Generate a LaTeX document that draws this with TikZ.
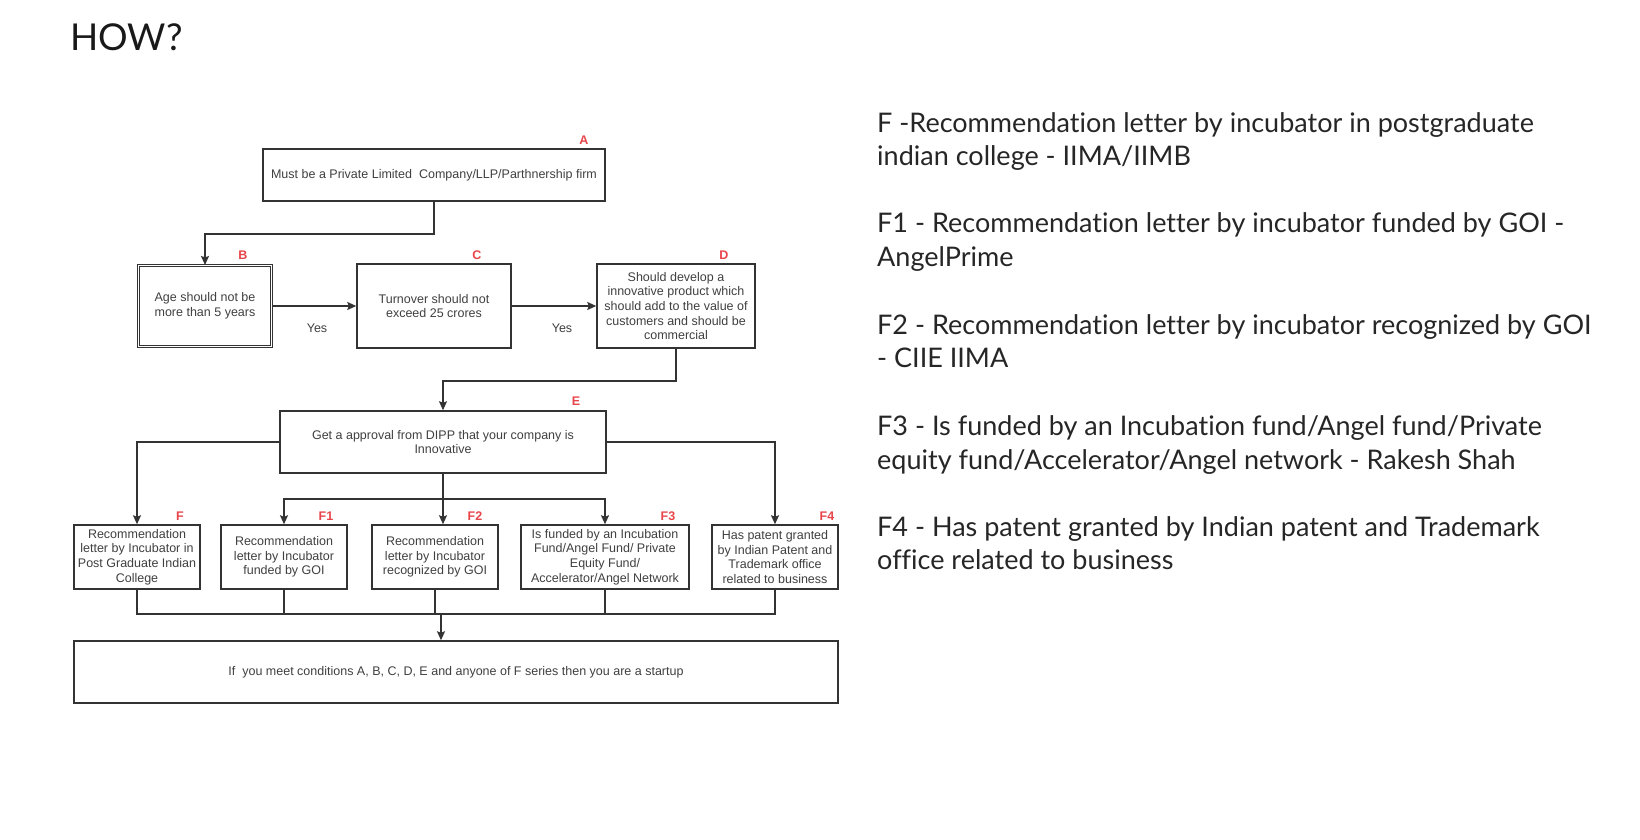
\documentclass[tikz,border=0pt]{standalone}
\usepackage{fontspec}
\setmainfont{Liberation Sans}
\newfontfamily\slidefont[Ligatures=NoCommon]{Lato}
\usetikzlibrary{arrows.meta}
\definecolor{ln}{HTML}{333333}
\definecolor{tx}{HTML}{404040}
\definecolor{lab}{HTML}{E8454A}
\begin{document}
\begin{tikzpicture}[x=1pt,y=-1pt,
  box/.style={draw=ln, line width=1.5pt, inner sep=0pt, align=center, text=tx, font=\fontsize{12.5}{14.6}\selectfont},
  lbl/.style={text=lab, font=\fontsize{12.5}{14}\selectfont\bfseries, inner sep=0pt},
  conn/.style={draw=ln, line width=1.5pt},
  arr/.style={conn, -{Stealth[length=9pt,width=8pt,inset=1.5pt]}},
  yes/.style={text=tx, font=\fontsize{12.5}{14}\selectfont, inner sep=0pt},
  rt/.style={anchor=base west, inner sep=0pt, font=\slidefont\fontsize{27}{33}\selectfont, text=black!85}
]
\path[use as bounding box, fill=white] (0,0) rectangle (1640,840);

\node[anchor=base west, inner sep=0pt, font=\slidefont\fontsize{37}{44}\selectfont, text=black!90] (title) at (70,51) {HOW?};

% boxes
\node[box, minimum width=342pt, minimum height=52pt] (A) at (434,175) {Must be a Private Limited\ \ Company/LLP/Parthnership firm};
\node[box, double=white, double distance=1.4pt, line width=1.1pt, minimum width=133pt, minimum height=81pt] (B) at (205,306) {Age should not be\\more than 5 years};
\node[box, minimum width=154pt, minimum height=84pt] (C) at (434,306) {Turnover should not\\exceed 25 crores};
\node[box, minimum width=158pt, minimum height=84pt] (D) at (676,306) {Should develop a\\innovative product which\\should add to the value of\\customers and should be\\commercial};
\node[box, minimum width=326pt, minimum height=62pt] (E) at (443,442) {Get a approval from DIPP that your company is\\Innovative};
\node[box, minimum width=126pt, minimum height=64pt] (F) at (137,557) {Recommendation\\letter by Incubator in\\Post Graduate Indian\\College};
\node[box, minimum width=126pt, minimum height=64pt] (F1) at (284,557) {Recommendation\\letter by Incubator\\funded by GOI};
\node[box, minimum width=126pt, minimum height=64pt] (F2) at (435,557) {Recommendation\\letter by Incubator\\recognized by GOI};
\node[box, minimum width=168pt, minimum height=64pt] (F3) at (605,557) {Is funded by an Incubation\\Fund/Angel Fund/ Private\\Equity Fund/\\Accelerator/Angel Network};
\node[box, minimum width=126pt, minimum height=64pt] (F4) at (775,557) {Has patent granted\\by Indian Patent and\\Trademark office\\related to business};
\node[box, minimum width=764pt, minimum height=62pt] (G) at (456,672) {If\ \ you meet conditions A, B, C, D, E and anyone of F series then you are a startup};

% labels
\node[lbl] (lA) at (584,140) {A};
\node[lbl] (lB) at (243,255) {B};
\node[lbl] (lC) at (477,255) {C};
\node[lbl] (lD) at (724,255) {D};
\node[lbl] (lE) at (576,401) {E};
\node[lbl] (lF) at (180,516) {F};
\node[lbl] (lF1) at (326,516) {F1};
\node[lbl] (lF2) at (475,516) {F2};
\node[lbl] (lF3) at (668,516) {F3};
\node[lbl] (lF4) at (827,516) {F4};

\node[yes] (y1) at (317,328) {Yes};
\node[yes] (y2) at (562,328) {Yes};

% connectors
\draw[arr] (A.south) -- ++(0,32) -| (B.north);
\draw[arr] (B.east) -- (C.west);
\draw[arr] (C.east) -- (D.west);
\draw[arr] (D.south) -- ++(0,32) -| (E.north);
\draw[arr] (E.west) -| (F.north);
\draw[arr] (E.east) -| (F4.north);
\draw[arr] (E.south) -- (E.south |- F2.north);
\coordinate (br) at (443,499);
\draw[arr] (br) -| (F1.north);
\draw[arr] (br) -| (F3.north);
\coordinate (jn) at (441,614);
\draw[conn] (F.south) |- (F4.south |- jn) -- (F4.south);
\draw[conn] (F1.south) -- (F1.south |- jn);
\draw[conn] (F2.south) -- (F2.south |- jn);
\draw[conn] (F3.south) -- (F3.south |- jn);
\draw[arr] (jn) -- (jn |- G.north);

% right text
\node[rt] (p1) at (877,132) {F -Recommendation letter by incubator in postgraduate};
\node[rt] (p2) at (877,165) {indian college - IIMA/IIMB};
\node[rt] (p3) at (877,232) {F1 - Recommendation letter by incubator funded by GOI -};
\node[rt] (p4) at (877,266) {AngelPrime};
\node[rt] (p5) at (877,334) {F2 - Recommendation letter by incubator recognized by GOI};
\node[rt] (p6) at (877,367) {- CIIE IIMA};
\node[rt] (p7) at (877,435) {F3 - Is funded by an Incubation fund/Angel fund/Private};
\node[rt] (p8) at (877,469) {equity fund/Accelerator/Angel network - Rakesh Shah};
\node[rt] (p9) at (877,536) {F4 - Has patent granted by Indian patent and Trademark};
\node[rt] (p10) at (877,569) {office related to business};
\end{tikzpicture}
\end{document}
